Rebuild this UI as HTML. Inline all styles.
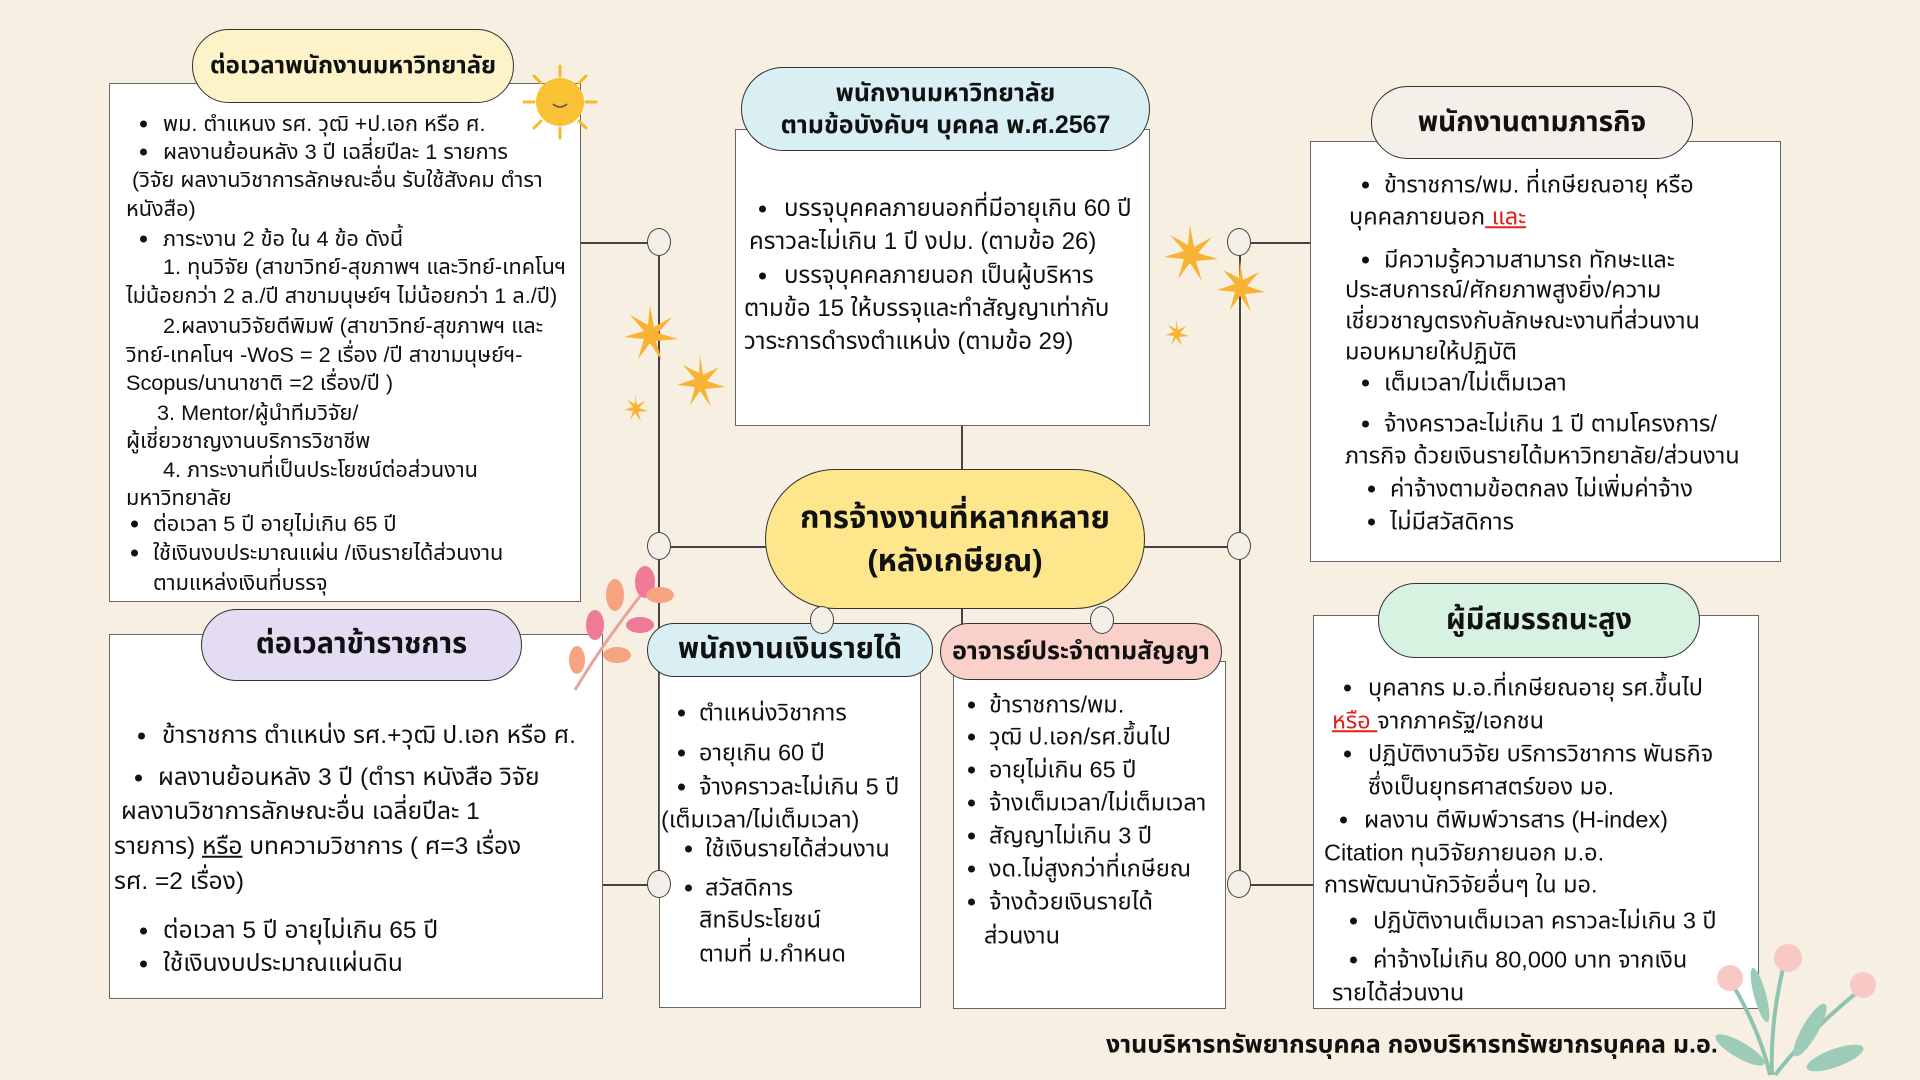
<!DOCTYPE html>
<html><head><meta charset="utf-8">
<style>
*{margin:0;padding:0;box-sizing:border-box}
body{width:1920px;height:1080px;background:#f7efe1;position:relative;overflow:hidden;font-family:"Liberation Sans","Noto Sans Thai","Tlwg Typo","Loma","Garuda","DejaVu Sans",sans-serif;color:#111}
.box{position:absolute;background:#fff;border:1.5px solid #666}
.pill{position:absolute;border:1.5px solid #333;border-radius:999px;display:flex;align-items:center;justify-content:center;text-align:center;font-weight:bold;line-height:1.3;white-space:nowrap}
.t{position:absolute;white-space:nowrap;line-height:1;transform:translateY(-50%)}
.b{position:absolute;width:7px;height:7px;border-radius:50%;background:#111;transform:translateY(-50%)}
.f19 .t{font-size:21.7px}.f22 .t{font-size:24.5px}.f22c .t{font-size:24px}.f20 .t{font-size:23.5px}
.c{position:absolute;width:24px;height:28px;border-radius:50%;background:#f4efe8;border:1.5px solid #444;transform:translate(-50%,-50%)}
.h{position:absolute;height:1.5px;background:#444}.v{position:absolute;width:1.5px;background:#444}
.red{color:#e0201c;text-decoration:underline}
</style></head><body>

<!-- connectors -->
<div class="v" style="left:658px;top:242px;height:642px"></div>
<div class="h" style="left:580px;top:242px;width:78px"></div>
<div class="h" style="left:658px;top:546px;width:110px"></div>
<div class="h" style="left:602px;top:884px;width:56px"></div>
<div class="v" style="left:1239px;top:242px;height:642px"></div>
<div class="h" style="left:1239px;top:242px;width:72px"></div>
<div class="h" style="left:1142px;top:546px;width:97px"></div>
<div class="h" style="left:1239px;top:884px;width:75px"></div>
<div class="v" style="left:961px;top:425px;height:46px"></div>
<div class="v" style="left:961px;top:605px;height:30px"></div>

<!-- left top -->
<div class="box" style="left:109px;top:83px;width:472px;height:519px"></div>
<div class="pill" style="left:192px;top:29px;width:322px;height:74px;background:#fdf3c8;font-size:24px">ต่อเวลาพนักงานมหาวิทยาลัย</div>
<div class="f19">
<div class="b" style="left:140px;top:124px"></div><div class="t" style="left:163px;top:124px">พม. ตำแหนง รศ. วุฒิ +ป.เอก หรือ ศ.</div>
<div class="b" style="left:140px;top:152px"></div><div class="t" style="left:163px;top:152px">ผลงานย้อนหลัง 3 ปี เฉลี่ยปีละ 1 รายการ</div>
<div class="t" style="left:132px;top:180px">(วิจัย ผลงานวิชาการลักษณะอื่น รับใช้สังคม  ตำรา</div>
<div class="t" style="left:126px;top:209px">หนังสือ)</div>
<div class="b" style="left:140px;top:239px"></div><div class="t" style="left:163px;top:239px">ภาระงาน  2 ข้อ ใน 4 ข้อ ดังนี้</div>
<div class="t" style="left:163px;top:267px">1. ทุนวิจัย (สาขาวิทย์-สุขภาพฯ และวิทย์-เทคโนฯ</div>
<div class="t" style="left:126px;top:296px">ไม่น้อยกว่า 2 ล./ปี  สาขามนุษย์ฯ ไม่น้อยกว่า 1 ล./ปี)</div>
<div class="t" style="left:163px;top:326px">2.ผลงานวิจัยตีพิมพ์  (สาขาวิทย์-สุขภาพฯ และ</div>
<div class="t" style="left:126px;top:355px">วิทย์-เทคโนฯ -WoS = 2 เรื่อง /ปี  สาขามนุษย์ฯ-</div>
<div class="t" style="left:126px;top:383px">Scopus/นานาชาติ =2 เรื่อง/ปี )</div>
<div class="t" style="left:157px;top:413px">3. Mentor/ผู้นำทีมวิจัย/</div>
<div class="t" style="left:126px;top:441px">ผู้เชี่ยวชาญงานบริการวิชาชีพ</div>
<div class="t" style="left:163px;top:470px">4. ภาระงานที่เป็นประโยชน์ต่อส่วนงาน</div>
<div class="t" style="left:126px;top:498px">มหาวิทยาลัย</div>
<div class="b" style="left:131px;top:524px"></div><div class="t" style="left:153px;top:524px">ต่อเวลา 5 ปี อายุไม่เกิน 65 ปี</div>
<div class="b" style="left:131px;top:553px"></div><div class="t" style="left:153px;top:553px">ใช้เงินงบประมาณแผ่น /เงินรายได้ส่วนงาน</div>
<div class="t" style="left:153px;top:583px">ตามแหล่งเงินที่บรรจุ</div>
</div>

<!-- top center -->
<div class="box" style="left:735px;top:129px;width:415px;height:297px"></div>
<div class="pill" style="left:741px;top:67px;width:409px;height:84px;background:#d9eff4;font-size:25px">พนักงานมหาวิทยาลัย<br>ตามข้อบังคับฯ บุคคล พ.ศ.2567</div>
<div class="f22c">
<div class="b" style="left:759px;top:209px"></div><div class="t" style="left:784px;top:209px">บรรจุบุคคลภายนอกที่มีอายุเกิน 60 ปี</div>
<div class="t" style="left:749px;top:242px">คราวละไม่เกิน 1 ปี งปม. (ตามข้อ 26)</div>
<div class="b" style="left:759px;top:276px"></div><div class="t" style="left:784px;top:276px">บรรจุบุคคลภายนอก เป็นผู้บริหาร</div>
<div class="t" style="left:744px;top:309px">ตามข้อ 15   ให้บรรจุและทำสัญญาเท่ากับ</div>
<div class="t" style="left:744px;top:342px">วาระการดำรงตำแหน่ง (ตามข้อ 29)</div>
</div>

<!-- right top -->
<div class="box" style="left:1310px;top:141px;width:471px;height:421px"></div>
<div class="pill" style="left:1371px;top:86px;width:322px;height:73px;background:#f4efe8;font-size:28px">พนักงานตามภารกิจ</div>
<div class="f20">
<div class="b" style="left:1362px;top:185px"></div><div class="t" style="left:1384px;top:185px">ข้าราชการ/พม. ที่เกษียณอายุ หรือ</div>
<div class="t" style="left:1349px;top:217px">บุคคลภายนอก<span class="red"> และ</span></div>
<div class="b" style="left:1362px;top:260px"></div><div class="t" style="left:1384px;top:260px">มีความรู้ความสามารถ ทักษะและ</div>
<div class="t" style="left:1345px;top:290px">ประสบการณ์/ศักยภาพสูงยิ่ง/ความ</div>
<div class="t" style="left:1345px;top:321px">เชี่ยวชาญตรงกับลักษณะงานที่ส่วนงาน</div>
<div class="t" style="left:1345px;top:352px">มอบหมายให้ปฏิบัติ</div>
<div class="b" style="left:1362px;top:383px"></div><div class="t" style="left:1384px;top:383px">เต็มเวลา/ไม่เต็มเวลา</div>
<div class="b" style="left:1362px;top:424px"></div><div class="t" style="left:1384px;top:424px">จ้างคราวละไม่เกิน 1 ปี ตามโครงการ/</div>
<div class="t" style="left:1345px;top:456px">ภารกิจ ด้วยเงินรายได้มหาวิทยาลัย/ส่วนงาน</div>
<div class="b" style="left:1368px;top:489px"></div><div class="t" style="left:1390px;top:489px">ค่าจ้างตามข้อตกลง ไม่เพิ่มค่าจ้าง</div>
<div class="b" style="left:1368px;top:522px"></div><div class="t" style="left:1390px;top:522px">ไม่มีสวัสดิการ</div>
</div>

<!-- center -->
<div class="pill" style="left:765px;top:469px;width:380px;height:140px;background:#fde68b;font-size:31px;line-height:1.4">การจ้างงานที่หลากหลาย<br>(หลังเกษียณ)</div>

<!-- left bottom -->
<div class="box" style="left:109px;top:634px;width:494px;height:365px"></div>
<div class="pill" style="left:201px;top:609px;width:321px;height:72px;background:#e3dcf3;font-size:29px">ต่อเวลาข้าราชการ</div>
<div class="f22">
<div class="b" style="left:138px;top:736px"></div><div class="t" style="left:162px;top:736px">ข้าราชการ ตำแหน่ง รศ.+วุฒิ ป.เอก หรือ ศ.</div>
<div class="b" style="left:135px;top:778px"></div><div class="t" style="left:158px;top:778px">ผลงานย้อนหลัง 3 ปี  (ตำรา หนังสือ วิจัย</div>
<div class="t" style="left:121px;top:812px">ผลงานวิชาการลักษณะอื่น เฉลี่ยปีละ 1</div>
<div class="t" style="left:114px;top:847px">รายการ) <u>หรือ</u> บทความวิชาการ ( ศ=3 เรื่อง</div>
<div class="t" style="left:114px;top:882px">รศ. =2 เรื่อง)</div>
<div class="b" style="left:140px;top:931px"></div><div class="t" style="left:163px;top:931px">ต่อเวลา 5 ปี อายุไม่เกิน 65 ปี</div>
<div class="b" style="left:140px;top:964px"></div><div class="t" style="left:163px;top:964px">ใช้เงินงบประมาณแผ่นดิน</div>
</div>

<!-- mid box 1 -->
<div class="box" style="left:659px;top:671px;width:262px;height:337px"></div>
<div class="pill" style="left:647px;top:623px;width:286px;height:54px;background:#d9eff4;font-size:29px">พนักงานเงินรายได้</div>
<div class="f20">
<div class="b" style="left:678px;top:713px"></div><div class="t" style="left:699px;top:713px">ตำแหน่งวิชาการ</div>
<div class="b" style="left:678px;top:753px"></div><div class="t" style="left:699px;top:753px">อายุเกิน 60 ปี</div>
<div class="b" style="left:678px;top:787px"></div><div class="t" style="left:699px;top:787px">จ้างคราวละไม่เกิน 5 ปี</div>
<div class="t" style="left:661px;top:820px">(เต็มเวลา/ไม่เต็มเวลา)</div>
<div class="b" style="left:685px;top:849px"></div><div class="t" style="left:705px;top:849px">ใช้เงินรายได้ส่วนงาน</div>
<div class="b" style="left:685px;top:888px"></div><div class="t" style="left:705px;top:888px">สวัสดิการ</div>
<div class="t" style="left:699px;top:920px">สิทธิประโยชน์</div>
<div class="t" style="left:699px;top:954px">ตามที่ ม.กำหนด</div>
</div>

<!-- mid box 2 -->
<div class="box" style="left:953px;top:661px;width:273px;height:348px"></div>
<div class="pill" style="left:940px;top:623px;width:282px;height:57px;background:#fad0ca;font-size:25px">อาจารย์ประจำตามสัญญา</div>
<div class="f20">
<div class="b" style="left:968px;top:705px"></div><div class="t" style="left:989px;top:705px">ข้าราชการ/พม.</div>
<div class="b" style="left:968px;top:737px"></div><div class="t" style="left:989px;top:737px">วุฒิ ป.เอก/รศ.ขึ้นไป</div>
<div class="b" style="left:968px;top:770px"></div><div class="t" style="left:989px;top:770px">อายุไม่เกิน 65 ปี</div>
<div class="b" style="left:968px;top:803px"></div><div class="t" style="left:989px;top:803px">จ้างเต็มเวลา/ไม่เต็มเวลา</div>
<div class="b" style="left:968px;top:836px"></div><div class="t" style="left:989px;top:836px">สัญญาไม่เกิน 3 ปี</div>
<div class="b" style="left:968px;top:869px"></div><div class="t" style="left:989px;top:869px">งด.ไม่สูงกว่าที่เกษียณ</div>
<div class="b" style="left:968px;top:902px"></div><div class="t" style="left:989px;top:902px">จ้างด้วยเงินรายได้</div>
<div class="t" style="left:984px;top:936px">ส่วนงาน</div>
</div>

<!-- right bottom -->
<div class="box" style="left:1313px;top:615px;width:446px;height:394px"></div>
<div class="pill" style="left:1378px;top:583px;width:322px;height:75px;background:#d8f2e2;font-size:29px">ผู้มีสมรรถนะสูง</div>
<div class="f20">
<div class="b" style="left:1344px;top:688px"></div><div class="t" style="left:1368px;top:688px">บุคลากร ม.อ.ที่เกษียณอายุ รศ.ขึ้นไป</div>
<div class="t" style="left:1332px;top:721px"><span class="red">หรือ </span>จากภาครัฐ/เอกชน</div>
<div class="b" style="left:1344px;top:754px"></div><div class="t" style="left:1368px;top:754px">ปฏิบัติงานวิจัย บริการวิชาการ พันธกิจ</div>
<div class="t" style="left:1368px;top:787px">ซึ่งเป็นยุทธศาสตร์ของ มอ.</div>
<div class="b" style="left:1340px;top:820px"></div><div class="t" style="left:1364px;top:820px">ผลงาน ตีพิมพ์วารสาร (H-index)</div>
<div class="t" style="left:1324px;top:853px">Citation ทุนวิจัยภายนอก ม.อ.</div>
<div class="t" style="left:1324px;top:885px">การพัฒนานักวิจัยอื่นๆ ใน มอ.</div>
<div class="b" style="left:1350px;top:921px"></div><div class="t" style="left:1373px;top:921px">ปฏิบัติงานเต็มเวลา คราวละไม่เกิน 3 ปี</div>
<div class="b" style="left:1350px;top:960px"></div><div class="t" style="left:1373px;top:960px">ค่าจ้างไม่เกิน 80,000 บาท จากเงิน</div>
<div class="t" style="left:1332px;top:993px">รายได้ส่วนงาน</div>
</div>

<!-- circles -->
<div class="c" style="left:659px;top:242px"></div>
<div class="c" style="left:659px;top:546px"></div>
<div class="c" style="left:659px;top:884px"></div>
<div class="c" style="left:1239px;top:242px"></div>
<div class="c" style="left:1239px;top:546px"></div>
<div class="c" style="left:1239px;top:884px"></div>
<div class="c" style="left:822px;top:620px"></div>
<div class="c" style="left:1102px;top:620px"></div>

<!-- decorations on top -->
<svg style="position:absolute;left:520px;top:62px" width="80" height="80" viewBox="0 0 80 80">
<g stroke="#f6b92a" stroke-width="3" stroke-linecap="round">
<line x1="40" y1="4" x2="40" y2="14"/><line x1="40" y1="66" x2="40" y2="76"/><line x1="4" y1="40" x2="14" y2="40"/><line x1="66" y1="40" x2="76" y2="40"/>
<line x1="14" y1="14" x2="21" y2="21"/><line x1="59" y1="59" x2="66" y2="66"/><line x1="66" y1="14" x2="59" y2="21"/><line x1="14" y1="66" x2="21" y2="59"/></g>
<circle cx="40" cy="40" r="24" fill="#f8c234"/><path d="M33 42 q7 6 14 0" stroke="#555" stroke-width="1.5" fill="none"/></svg>
<svg style="position:absolute;left:615px;top:295px" width="110" height="130" viewBox="0 0 110 130"><g fill="#f8b335">
<path d="M35 10 l4 22 l18-10 l-14 16 l20 6 l-22 2 l6 20 l-12-18 l-12 16 l6-20 l-20-2 l20-6 l-14-16 l18 10z"/>
<path d="M85 60 l3 20 l16-8 l-12 14 l18 6 l-20 2 l6 18 l-11-16 l-10 14 l5-18 l-18-2 l18-6 l-12-14 l16 8z"/>
<path d="M20 100 l2 10 l8-4 l-6 7 l9 3 l-10 1 l3 9 l-6-8 l-5 7 l3-9 l-9-1 l9-3 l-6-7 l8 4z"/></g></svg>
<svg style="position:absolute;left:1160px;top:220px" width="110" height="130" viewBox="0 0 110 130"><g fill="#f8b335">
<path d="M30 5 l4 22 l18-10 l-14 16 l20 6 l-22 2 l6 20 l-12-18 l-12 16 l6-20 l-20-2 l20-6 l-14-16 l18 10z"/>
<path d="M80 40 l3 20 l16-8 l-12 14 l18 6 l-20 2 l6 18 l-11-16 l-10 14 l5-18 l-18-2 l18-6 l-12-14 l16 8z"/>
<path d="M16 100 l2 10 l8-4 l-6 7 l9 3 l-10 1 l3 9 l-6-8 l-5 7 l3-9 l-9-1 l9-3 l-6-7 l8 4z"/></g></svg>
<svg style="position:absolute;left:555px;top:560px" width="120" height="140" viewBox="0 0 120 140">
<path d="M20 130 Q50 80 90 30" stroke="#e8a39a" stroke-width="3" fill="none"/>
<ellipse cx="90" cy="22" rx="10" ry="16" fill="#ee7a98"/><ellipse cx="105" cy="35" rx="14" ry="8" fill="#f5a47f"/>
<ellipse cx="60" cy="35" rx="9" ry="16" fill="#f5a47f"/><ellipse cx="85" cy="65" rx="14" ry="8" fill="#ee7a98"/>
<ellipse cx="40" cy="65" rx="9" ry="15" fill="#ee7a98"/><ellipse cx="62" cy="95" rx="14" ry="8" fill="#f5a47f"/>
<ellipse cx="22" cy="100" rx="8" ry="14" fill="#f5a47f"/></svg>
<svg style="position:absolute;left:1710px;top:940px" width="180" height="140" viewBox="0 0 180 140">
<g stroke="#8fc3b0" stroke-width="4" fill="none"><path d="M20 40 Q50 90 60 135"/><path d="M75 20 Q60 80 62 135"/><path d="M150 50 Q100 90 65 135"/></g>
<g fill="#9ccbb8"><ellipse cx="50" cy="55" rx="6" ry="28" transform="rotate(-15 50 55)"/><ellipse cx="100" cy="90" rx="8" ry="30" transform="rotate(30 100 90)"/><ellipse cx="30" cy="110" rx="28" ry="8" transform="rotate(30 30 110)"/><ellipse cx="125" cy="118" rx="30" ry="9" transform="rotate(-20 125 118)"/></g>
<g fill="#f8c9c4"><circle cx="20" cy="38" r="13"/><circle cx="78" cy="18" r="14"/><circle cx="153" cy="45" r="13"/></g></svg>

<div class="t" style="left:1106px;top:1045px;font-size:25px;font-weight:bold">งานบริหารทรัพยากรบุคคล กองบริหารทรัพยากรบุคคล ม.อ.</div>
</body></html>
